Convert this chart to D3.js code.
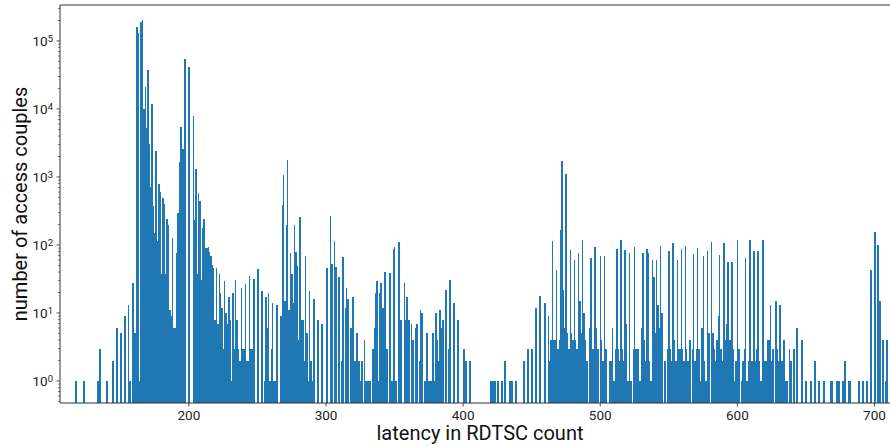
<!DOCTYPE html>
<html>
<head>
<meta charset="utf-8">
<script src="https://cdn.jsdelivr.net/npm/d3@7"></script>
<style>
  html, body { margin: 0; padding: 0; background: #fff; }
  svg { display: block; font-family: Roboto, "DejaVu Sans", sans-serif; }
</style>
</head>
<body>
<svg id="chart" width="890" height="447"></svg>
<script>
// Histogram of access latencies: one bin per RDTSC count value.
// latency[i] is the bin's RDTSC count, couples[i] the number of access couples in it.
const latency = [
  117,123,133,135,140,144,147,150,153,156,157,159,160,
  162,163,164,165,166,167,168,169,170,171,172,173,174,175,176,177,178,179,180,
  181,182,183,184,185,186,187,188,189,190,191,192,193,194,195,197,200,203,204,
  205,206,207,208,209,210,211,212,213,214,215,216,217,218,219,220,221,222,223,
  224,225,226,227,228,229,230,231,232,233,234,235,236,237,238,239,240,241,242,
  243,244,245,246,247,250,253,255,256,257,258,259,260,261,262,263,264,267,268,
  269,270,271,272,273,274,275,276,277,278,279,280,281,282,283,284,285,286,287,
  288,289,290,291,294,297,300,303,304,306,307,309,311,312,314,315,316,318,319,
  321,322,324,325,326,328,329,330,331,332,334,335,336,337,338,339,340,341,343,
  344,346,348,349,350,351,353,354,357,358,359,360,362,363,365,366,368,369,370,
  372,373,375,376,377,378,379,380,381,382,383,384,385,387,389,390,393,396,400,
  402,405,420,421,422,423,425,428,430,434,435,438,444,447,450,453,456,459,462,
  463,464,465,466,467,468,469,470,471,472,473,474,475,476,477,478,479,480,481,
  482,483,484,485,486,487,488,489,490,492,493,494,496,497,498,500,501,502,503,
  504,507,508,509,510,511,512,513,514,515,516,517,518,519,520,521,522,524,525,
  526,527,528,529,530,531,532,533,534,535,536,537,538,539,540,541,542,543,544,
  545,547,549,550,551,552,553,554,555,556,557,558,559,560,561,562,563,564,565,
  567,568,569,570,571,572,573,574,575,576,577,578,579,581,582,583,584,585,586,
  587,588,589,590,591,592,593,594,596,597,598,599,600,601,603,604,605,606,607,
  608,609,610,612,613,614,615,616,617,618,620,621,622,623,624,625,626,628,629,
  630,631,632,633,634,635,636,638,639,641,643,647,650,653,656,659,663,668,669,
  672,674,677,678,681,682,688,691,694,697,700,702,704,706,708,709
];
const couples = [
  1,1,1,3,1,2,6,5,9,13,1,28,5,
  160000,130000,1,190000,200000,10000,21000,5300,37000,3100,720,11800,380,150,2400,116,800,600,38,
  490,400,38,245,200,11,9,126,6,6,77,295,1660,5400,2600,54000,42000,7800,230,
  1300,38,590,440,31,180,240,90,90,92,80,70,50,46,8,46,7,37,20,
  12,3,30,10,7,17,8,1,20,3,31,8,3,2,23,3,3,27,2,
  2,35,3,3,32,44,21,1,17,6,20,1,3,14,1,1,13,9,385,
  1070,15,200,1800,11,75,38,14,200,80,49,4,260,8,8,2,68,5,1,
  21,2,1,16,8,7,46,270,52,116,48,34,2,67,12,23,16,6,17,
  2,5,2,1,2,4,1,1,1,1,3,6,20,30,1,20,28,12,40,
  3,39,1,87,94,1,110,8,28,8,17,8,7,4,6,7,2,11,10,
  1,5,1,1,1,5,1,10,4,2,11,6,8,22,3,31,14,8,3,
  2,2,1,1,1,1,1,1,2,1,1,1,2,3,3,12,18,14,9,
  2,4,114,4,4,43,3,4,165,1700,22,6,1100,5,3,84,5,4,60,
  4,3,75,15,5,120,10,4,2,6,65,3,92,6,3,70,4,2,68,
  3,2,2,6,1,3,87,3,2,118,3,2,84,7,1,75,1,3,92,
  3,3,3,1,6,75,4,2,87,75,2,1,60,34,5,60,13,6,97,
  10,2,3,81,3,2,107,4,2,60,3,3,86,3,2,97,3,2,4,
  3,73,2,3,90,3,1,6,70,2,1,81,5,110,5,3,2,4,9,
  71,3,2,107,4,7,57,4,57,3,1,2,120,3,1,2,3,65,1,
  2,118,2,81,2,3,81,2,1,118,2,2,4,4,13,2,3,15,3,
  2,13,2,2,4,1,1,3,2,3,6,4,1,1,2,1,1,1,1,
  1,1,1,2,1,1,1,1,1,43,153,100,15,4,1,4
];
const xTicks = [200, 300, 400, 500, 600, 700];
const yTicks = [0, 1, 2, 3, 4, 5];          // powers of ten
const xLabel = "latency in RDTSC count";
const yLabel = "number of access couples";

const bins = latency.map((v, i) => ({ latency: v, count: couples[i] }));
const occupied = new Set(latency);

const W = 890, H = 447;
const m = { left: 60, right: 890, top: 5, bottom: 403 };
const svg = d3.select("#chart");
svg.append("rect").attr("width", W).attr("height", H).attr("fill", "#fff");

const x = d3.scaleLinear().domain([106.35, 711.7]).range([m.left, m.right]);
const y = d3.scaleLog().domain([0.4747, 338000]).range([m.bottom, m.top]);

// bar geometry snapped to whole pixels; a bar with an empty right neighbour
// is kept at least 2 px wide so isolated counts stay legible
const barX = d => Math.round(x(d.latency));
const barW = d => {
  const w = Math.round(x(d.latency + 1)) - barX(d);
  return occupied.has(d.latency + 1) ? w : Math.max(w, 2);
};

svg.append("g")
  .attr("shape-rendering", "crispEdges")
  .selectAll("rect")
  .data(bins)
  .join("rect")
  .attr("x", barX)
  .attr("width", barW)
  .attr("y", d => y(d.count))
  .attr("height", d => m.bottom - y(d.count))
  .attr("fill", "#1f77b4");

// x axis
const xAxis = d3.axisBottom(x).tickValues(xTicks).tickSize(3.5).tickPadding(3.5).tickFormat(d3.format("d"));
const gx = svg.append("g").attr("transform", `translate(0,${m.bottom})`).call(xAxis);
gx.select(".domain").remove();
gx.selectAll(".tick line").attr("stroke", "#222").attr("stroke-width", 0.8);
gx.selectAll(".tick text")
  .attr("fill", "#222")
  .style("font-size", "13.5px")
  .style("font-family", "Roboto, sans-serif");

// y axis: major ticks at powers of ten, minor ticks between them
const minor = [];
for (let e = -1; e <= 5; e++) for (let k = 2; k <= 9; k++) {
  const v = k * Math.pow(10, e);
  if (v >= y.domain()[0] && v <= y.domain()[1]) minor.push(v);
}
const gy = svg.append("g").attr("transform", `translate(${m.left},0)`);
gy.selectAll("line.minor").data(minor).join("line")
  .attr("class", "minor")
  .attr("x1", -2).attr("x2", 0)
  .attr("y1", d => y(d)).attr("y2", d => y(d))
  .attr("stroke", "#222").attr("stroke-width", 0.6);
const major = gy.selectAll("g.major").data(yTicks).join("g")
  .attr("class", "major")
  .attr("transform", d => `translate(0,${y(Math.pow(10, d))})`);
major.append("line").attr("x1", -3.5).attr("x2", 0).attr("stroke", "#222").attr("stroke-width", 0.8);
const lbl = major.append("text")
  .attr("x", -7).attr("dy", "0.36em")
  .attr("text-anchor", "end")
  .attr("fill", "#222")
  .style("font-size", "13.5px")
  .style("font-family", "Roboto, sans-serif");
lbl.append("tspan").text("10");
lbl.append("tspan").attr("dy", "-0.45em").style("font-size", "9.5px").text(d => d);

// spines
svg.append("line").attr("x1", m.left).attr("x2", m.left).attr("y1", m.top).attr("y2", m.bottom)
  .attr("stroke", "#333").attr("stroke-width", 1);
svg.append("line").attr("x1", m.left).attr("x2", m.right).attr("y1", m.bottom).attr("y2", m.bottom)
  .attr("stroke", "#333").attr("stroke-width", 1);
svg.append("line").attr("x1", m.left).attr("x2", m.right).attr("y1", m.top).attr("y2", m.top)
  .attr("stroke", "#333").attr("stroke-width", 1);

// axis titles
svg.append("text")
  .attr("x", 480).attr("y", 440)
  .attr("text-anchor", "middle")
  .attr("fill", "#111")
  .style("font-size", "20px")
  .style("font-family", "Roboto, sans-serif")
  .text(xLabel);
svg.append("text")
  .attr("transform", "translate(27,204) rotate(-90)")
  .attr("text-anchor", "middle")
  .attr("fill", "#111")
  .style("font-size", "20px")
  .style("font-family", "Roboto, sans-serif")
  .text(yLabel);
</script>
</body>
</html>
